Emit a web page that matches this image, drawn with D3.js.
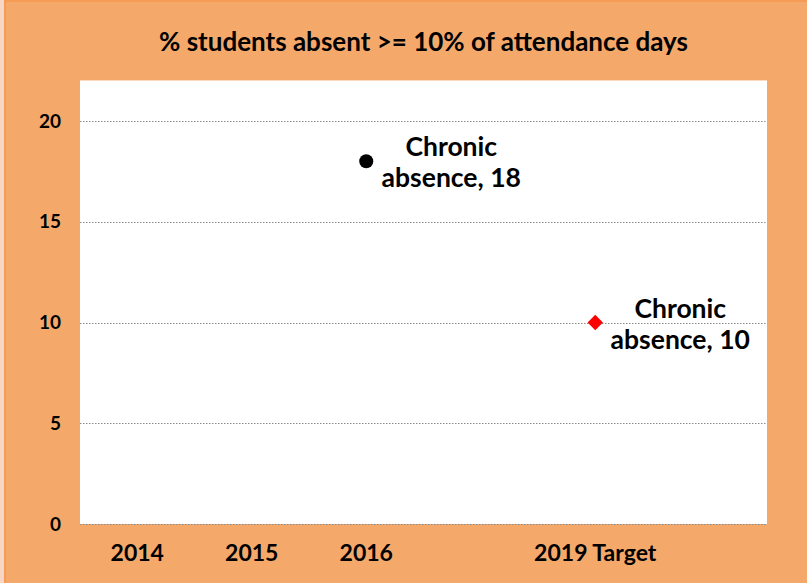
<!DOCTYPE html>
<html>
<head>
<meta charset="utf-8">
<script src="https://cdn.jsdelivr.net/npm/d3@7"></script>
<style>
  html, body { margin: 0; padding: 0; background: #f4a96b; }
  svg { display: block; font-family: Lato, "Open Sans", sans-serif; font-weight: bold; }
</style>
</head>
<body>
<svg id="chart" width="807" height="583"></svg>
<script>
const title = "% students absent >= 10% of attendance days";
const categories = ["2014", "2015", "2016", "", "2019 Target", ""];
const actualValues = [null, null, 18, null, null, null];
const targetValues = [null, null, null, null, 10, null];
const seriesName = "Chronic absence";
const yTicks = [0, 5, 10, 15, 20];

const width = 807, height = 583;
const margin = { top: 80, right: 40, bottom: 59, left: 80 };

const svg = d3.select("#chart");

// chart background with the frame on top/left
svg.append("rect")
  .attr("width", width).attr("height", height)
  .attr("fill", "#f4a96b");
svg.append("rect")
  .attr("x", 0).attr("y", 0).attr("width", 4).attr("height", height)
  .attr("fill", "#f8d6c6");
svg.append("path")
  .attr("d", `M5,${height}V1H${width}`)
  .attr("fill", "none")
  .attr("stroke", "#f59b55")
  .attr("stroke-width", 2);

const x = d3.scaleBand()
  .domain(d3.range(categories.length))
  .range([margin.left, width - margin.right]);

const y = d3.scaleLinear()
  .domain([0, 20])
  .range([524, 121]);

// plot area
svg.append("rect")
  .attr("x", margin.left).attr("y", margin.top)
  .attr("width", width - margin.left - margin.right)
  .attr("height", y(0) - margin.top)
  .attr("fill", "#fff");

svg.append("line")
  .attr("x1", margin.left).attr("x2", width - margin.right)
  .attr("y1", margin.top + 0.5).attr("y2", margin.top + 0.5)
  .attr("stroke", "#fcd9bd");

// gridlines
svg.append("g")
  .selectAll("line")
  .data(yTicks)
  .join("line")
  .attr("x1", margin.left).attr("x2", width - margin.right)
  .attr("y1", d => Math.round(y(d)) + 0.5)
  .attr("y2", d => Math.round(y(d)) + 0.5)
  .attr("stroke", "#8a8a8a")
  .attr("stroke-dasharray", "1.5,1.5");

// y axis
const yAxis = svg.append("g")
  .attr("transform", `translate(${margin.left},0)`)
  .call(d3.axisLeft(y).tickValues(yTicks).tickSize(0).tickPadding(19));
yAxis.select(".domain").remove();
yAxis.selectAll("text")
  .attr("font-family", "Lato, sans-serif")
  .attr("font-weight", "bold")
  .attr("font-size", 19)
  .attr("fill", "#000");

// x axis
const xAxis = svg.append("g")
  .attr("transform", `translate(0,${y(0)})`)
  .call(d3.axisBottom(x).tickFormat(i => categories[i]).tickSize(0).tickPadding(21));
xAxis.select(".domain").remove();
xAxis.selectAll("text")
  .attr("font-family", "Lato, sans-serif")
  .attr("font-weight", "bold")
  .attr("font-size", 23)
  .attr("fill", "#000");

// title
svg.append("text")
  .attr("x", (margin.left + width - margin.right) / 2)
  .attr("y", 51)
  .attr("text-anchor", "middle")
  .attr("font-size", 26)
  .attr("fill", "#000")
  .text(title);

const cx = i => x(i) + x.bandwidth() / 2;

// actual points
const actual = actualValues.map((v, i) => ({ v, i })).filter(d => d.v != null);
svg.append("g")
  .selectAll("circle")
  .data(actual)
  .join("circle")
  .attr("cx", d => cx(d.i))
  .attr("cy", d => y(d.v))
  .attr("r", 7)
  .attr("fill", "#000");

// target points
const target = targetValues.map((v, i) => ({ v, i })).filter(d => d.v != null);
svg.append("g")
  .selectAll("path")
  .data(target)
  .join("path")
  .attr("transform", d => `translate(${cx(d.i)},${y(d.v)})`)
  .attr("d", d3.symbol(d3.symbolDiamond2, 150))
  .attr("fill", "#ff0000");

// data labels
function addLabel(d) {
  const t = svg.append("text")
    .attr("text-anchor", "middle")
    .attr("font-size", 26.5)
    .attr("fill", "#000")
    .attr("transform", `translate(${cx(d.i) + 85},${y(d.v)})`);
  t.append("tspan").attr("x", 0).attr("y", -5).text("Chronic");
  t.append("tspan").attr("x", 0).attr("y", 26).text(seriesName.split(" ")[1] + ", " + d.v);
}
actual.forEach(addLabel);
target.forEach(addLabel);
</script>
</body>
</html>
